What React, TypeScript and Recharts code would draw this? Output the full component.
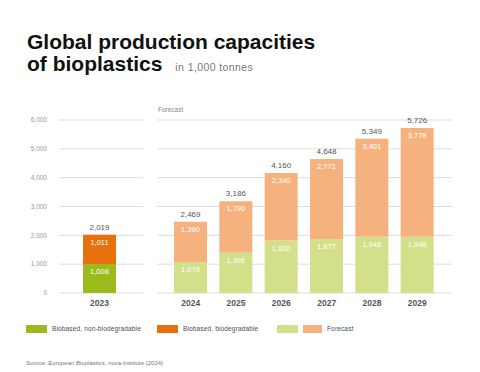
import { BarChart, Bar, XAxis, YAxis, CartesianGrid, LabelList } from "recharts";

const pastYears = ["2023"];
const pastNonBiodegradable = [1008];
const pastBiodegradable = [1011];
const pastTotals = [2019];

const forecastYears = ["2024", "2025", "2026", "2027", "2028", "2029"];
const forecastLower = [1079, 1396, 1820, 1877, 1948, 1948];
const forecastUpper = [1390, 1790, 2340, 2771, 3401, 3778];
const forecastTotals = [2469, 3186, 4160, 4648, 5349, 5726];

const yTicks = [0, 1000, 2000, 3000, 4000, 5000, 6000];

const pastData = pastYears.map((year, i) => ({
  year,
  lower: pastNonBiodegradable[i],
  upper: pastBiodegradable[i],
  total: pastTotals[i],
}));

const forecastData = forecastYears.map((year, i) => ({
  year,
  lower: forecastLower[i],
  upper: forecastUpper[i],
  total: forecastTotals[i],
}));

const FONT = "'Liberation Sans', Arial, sans-serif";
const GREEN = "#9bbb1b";
const ORANGE = "#e8710e";
const LIGHT_GREEN = "#d3df89";
const LIGHT_ORANGE = "#f5b27e";

const innerLabel = { fill: "#ffffff", fontSize: 7.5, fontFamily: FONT };
const totalLabel = { fill: "#555555", fontSize: 8, fontFamily: FONT };
const xTick = { fill: "#555555", fontSize: 8.5, fontWeight: 700, fontFamily: FONT };

const fmt = (v: any) => Number(v).toLocaleString("en-US");

function Panel({
  data,
  width,
  showAxis,
  lowerColor,
  upperColor,
  padding,
}: {
  data: any[];
  width: number;
  showAxis: boolean;
  lowerColor: string;
  upperColor: string;
  padding: { left: number; right: number };
}) {
  return (
    <BarChart
      width={width}
      height={220}
      data={data}
      margin={{ top: 20, right: showAxis ? 10 : 0, bottom: 0, left: 0 }}
      barSize={33}
    >
      <CartesianGrid vertical={false} stroke="#dddddd" />
      <XAxis
        dataKey="year"
        axisLine={false}
        tickLine={false}
        tickSize={0}
        tickMargin={7}
        height={27}
        padding={padding}
        tick={xTick}
        interval={0}
      />
      <YAxis
        hide={!showAxis}
        width={39}
        domain={[0, 6000]}
        ticks={yTicks}
        axisLine={false}
        tickLine={false}
        tickSize={0}
        tickMargin={12}
        tickFormatter={fmt}
        tick={{ fill: "#999999", fontSize: 6.5, fontFamily: FONT }}
      />
      <Bar dataKey="lower" stackId="a" fill={lowerColor} isAnimationActive={false}>
        <LabelList dataKey="lower" position="insideTop" offset={5} formatter={fmt} style={innerLabel} />
      </Bar>
      <Bar dataKey="upper" stackId="a" fill={upperColor} isAnimationActive={false}>
        <LabelList dataKey="upper" position="insideTop" offset={5} formatter={fmt} style={innerLabel} />
        <LabelList dataKey="total" position="top" offset={5} formatter={fmt} style={totalLabel} />
      </Bar>
    </BarChart>
  );
}

const swatch = (left: number, width: number, color: string) => (
  <div style={{ position: "absolute", left, top: 325, width, height: 8, background: color }} />
);

const legendText = (left: number, text: string) => (
  <div
    style={{
      position: "absolute",
      left,
      top: 324,
      fontSize: 6.5,
      lineHeight: "10px",
      color: "#464e5c",
      letterSpacing: 0.15,
    }}
  >
    {text}
  </div>
);

export default function App() {
  return (
    <div
      style={{
        position: "absolute",
        left: 0,
        top: 0,
        width: 480,
        height: 372,
        background: "#ffffff",
        fontFamily: FONT,
        overflow: "hidden",
      }}
    >
      <div
        style={{
          position: "absolute",
          left: 27,
          top: 31,
          fontSize: 21,
          lineHeight: "22px",
          fontWeight: 700,
          color: "#111111",
          whiteSpace: "nowrap",
        }}
      >
        Global production capacities
        <br />
        of bioplastics
        <span
          style={{
            fontSize: 10.5,
            fontWeight: 400,
            color: "#777777",
            marginLeft: 13,
            letterSpacing: 0.4,
          }}
        >
          in 1,000 tonnes
        </span>
      </div>

      <div style={{ position: "absolute", left: 158, top: 106, fontSize: 6.5, color: "#888888" }}>Forecast</div>

      <div style={{ position: "absolute", left: 20, top: 100 }}>
        <Panel
          data={pastData}
          width={133}
          showAxis
          lowerColor={GREEN}
          upperColor={ORANGE}
          padding={{ left: 0, right: 3 }}
        />
      </div>
      <div style={{ position: "absolute", left: 157, top: 100 }}>
        <Panel
          data={forecastData}
          width={295}
          showAxis={false}
          lowerColor={LIGHT_GREEN}
          upperColor={LIGHT_ORANGE}
          padding={{ left: 11, right: 12 }}
        />
      </div>

      {swatch(26, 21, GREEN)}
      {legendText(52, "Biobased, non-biodegradable")}
      {swatch(157, 21, ORANGE)}
      {legendText(183, "Biobased, biodegradable")}
      {swatch(277, 21, LIGHT_GREEN)}
      {swatch(303, 19, LIGHT_ORANGE)}
      {legendText(327, "Forecast")}

      <div style={{ position: "absolute", left: 26, top: 360, fontSize: 6, color: "#777777" }}>
        Source: European Bioplastics, nova-Institute (2024)
      </div>
    </div>
  );
}
